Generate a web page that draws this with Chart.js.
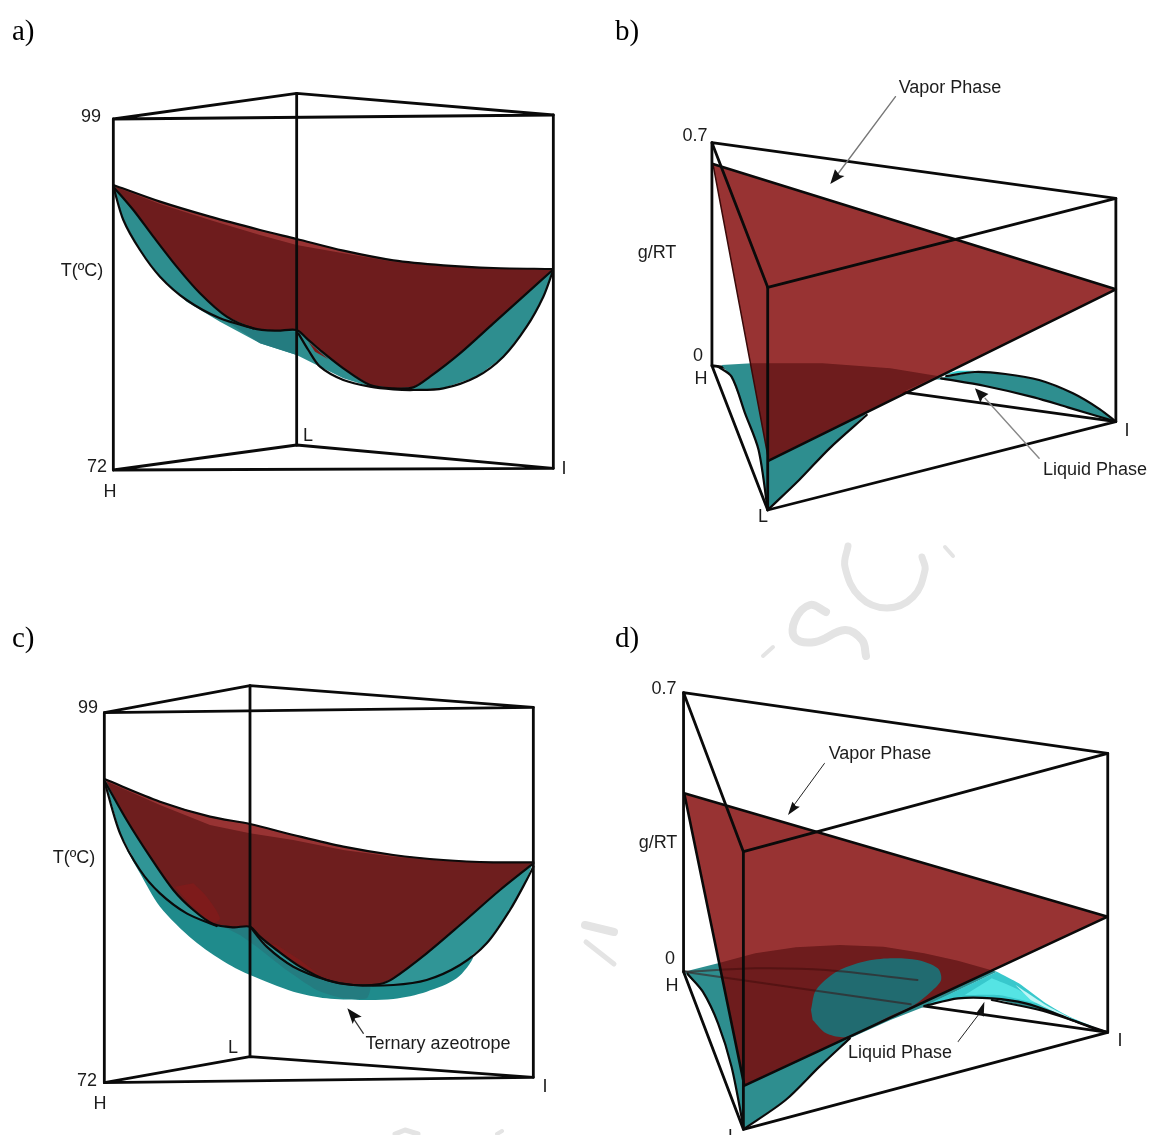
<!DOCTYPE html>
<html>
<head>
<meta charset="utf-8">
<title>Superficies</title>
<script src="https://cdn.jsdelivr.net/npm/chart.js@4"></script>
<style>
  html, body { margin: 0; width: 1150px; height: 1135px; overflow: hidden; background: #fff; }
  canvas { position: absolute; }
  .t { position: absolute; white-space: nowrap; color: #1c1c1c; font-family: "Liberation Sans", sans-serif; font-size: 18px; line-height: 1; transform: translate(-50%, -50%); }
  .p { position: absolute; color: #000; font-family: "Liberation Serif", serif; font-size: 29px; line-height: 1; }
</style>
</head>
<body>
<script>
// panel a)
const aFrameTop = [[160,117],[1480,105],[710,40],[160,117]];
const aFrameBottom = [[160,1170],[1480,1165],[710,1095],[160,1170]];
const aPostH = [[160,117],[160,1170]];
const aPostL = [[710,40],[710,1095]];
const aPostI = [[1480,105],[1480,1165]];
const aLiquid = [[160,318],[300,372],[450,420],[600,465],[710,495],[850,520],[1000,545],[1150,558],[1300,566],[1478,570],[1450,650],[1400,740],[1330,830],[1250,890],[1150,925],[1040,930],[930,920],[850,895],[770,855],[710,825],[600,790],[480,725],[380,665],[300,590],[240,510],[190,420]];
const aLiquidDark = [[500,725],[600,790],[710,825],[710,755],[580,748]];
const aVapor = [[160,315],[300,365],[450,410],[600,450],[710,477],[850,512],[1000,541],[1150,556],[1300,564],[1478,567],[1400,640],[1300,730],[1200,820],[1110,890],[1060,922],[1000,925],[930,915],[850,865],[780,810],[740,775],[710,750],[650,752],[580,745],[500,710],[420,640],[350,560],[280,470],[220,390]];
const aVaporBit = [[745,785],[790,825],[805,838],[765,815]];
const aEdgeTop = [[160,315],[300,365],[450,410],[600,450],[710,477],[850,512],[1000,541],[1150,556],[1300,564],[1478,567]];
const aEdgeVapor = [[160,320],[220,390],[280,470],[350,560],[420,640],[500,710],[580,745],[650,752],[710,750],[740,775],[780,810],[850,865],[930,915],[1000,925],[1060,922],[1110,890],[1200,820],[1300,730],[1400,640],[1478,570]];
const aEdgeLeft = [[160,320],[190,420],[240,510],[300,590],[380,660],[480,715],[580,745]];
const aEdgeRight = [[715,760],[745,810],[780,860],[850,900],[930,920],[1000,928],[1060,930],[1150,925],[1250,890],[1330,830],[1400,740],[1450,650],[1478,575]];

// panel b)
const bFrameTop = [[272,218],[1467,385],[437,652],[272,218]];
const bFrameBottom = [[272,887],[1467,1055],[437,1320],[272,887]];
const bPostH = [[272,218],[272,887]];
const bPostL = [[437,652],[437,1320]];
const bPostI = [[1467,385],[1467,1055]];
const bLiquid = [[300,885],[390,880],[600,880],[800,895],[940,918],[850,960],[730,1030],[620,1135],[530,1230],[437,1320],[410,1140],[370,1030],[330,920]];
const bLens = [[925,928],[1050,905],[1140,912],[1240,930],[1340,970],[1420,1018],[1467,1055],[1325,1012],[1225,982],[1080,948],[970,930]];
const bCyan = [[955,914],[1000,902],[1050,902],[1010,910]];
const bVapor = [[275,282],[1467,658],[440,1172]];
const bEdgeLow = [[437,1320],[530,1230],[620,1135],[730,1035]];
const bEdgeLeft = [[290,890],[330,920],[370,1030],[410,1140],[437,1320]];
const bEdgeLensUp = [[965,918],[1050,906],[1140,912],[1240,930],[1340,970],[1420,1018],[1467,1055]];
const bEdgeLensLow = [[950,925],[1080,948],[1225,982],[1325,1012],[1467,1055]];
const bEdgeVapor = [[275,282],[1467,658],[440,1172]];
const bEdgeVaporSide = [[275,282],[440,1172]];
const bArrowVapor = [[815,80],[640,318]];
const bHeadVapor = [[622,342],[636,298],[650,316],[664,318]];
const bArrowLiquid = [[1240,1165],[1080,985]];
const bHeadLiquid = [[1050,955],[1090,972],[1072,985],[1066,998]];

// panel c)
const cFrameTop = [[133,128],[1420,112],[570,47],[133,128]];
const cFrameBottom = [[133,1238],[1420,1222],[570,1160],[133,1238]];
const cPostH = [[133,128],[133,1238]];
const cPostL = [[570,47],[570,1160]];
const cPostI = [[1420,112],[1420,1222]];
const cBowl = [[200,540],[240,610],[300,710],[400,810],[500,880],[570,915],[700,965],[800,985],[900,990],[1000,987],[1100,965],[1190,925],[1240,860],[1200,860],[1000,900],[700,850],[470,740],[300,640]];
const cBowlDark = [[490,770],[570,770],[600,810],[660,870],[740,915],[830,940],[930,950],[920,985],[850,985],[770,960],[680,900],[590,830],[540,795]];
const cLiquid = [[135,332],[300,405],[450,465],[570,490],[700,510],[850,540],[1000,560],[1150,572],[1300,578],[1418,580],[1400,630],[1350,720],[1280,820],[1200,885],[1100,930],[1000,945],[880,945],[800,930],[700,890],[620,830],[570,770],[470,768],[380,730],[300,670],[240,600],[180,490]];
const cVapor = [[135,328],[300,395],[450,440],[570,462],[700,495],[850,530],[1000,555],[1150,570],[1300,577],[1420,577],[1320,660],[1200,765],[1100,850],[1000,925],[960,942],[880,945],[800,930],[720,890],[650,840],[600,800],[570,770],[520,772],[460,762],[400,720],[340,660],[270,560],[200,450]];
const cVaporBitLeft = [[345,650],[400,712],[458,758],[480,745],[440,680],[400,640]];
const cVaporBitRight = [[610,815],[680,860],[790,925],[720,870],[650,825]];
const cEdgeTop = [[135,328],[300,395],[450,440],[570,462],[700,495],[850,530],[1000,555],[1150,570],[1300,577],[1420,577]];
const cEdgeVapor = [[135,335],[200,450],[270,560],[340,660],[400,720],[460,762],[520,772],[570,770],[600,800],[650,840],[720,890],[800,930],[880,945],[960,942],[1000,925],[1100,850],[1200,765],[1320,660],[1420,580]];
const cEdgeLeft = [[135,340],[180,490],[240,600],[300,670],[380,730],[470,768]];
const cEdgeRight = [[570,770],[620,830],[700,890],[800,930],[880,945],[1000,945],[1100,930],[1200,885],[1280,820],[1350,720],[1400,630],[1420,590]];
const cArrow = [[910,1090],[880,1045]];
const cHead = [[862,1015],[905,1040],[885,1045],[878,1062]];

// panel d)
const dFrameTop = [[188,68],[1443,250],[365,545],[188,68]];
const dFrameBottom = [[188,905],[1443,1087],[365,1378],[188,905]];
const dPostH = [[188,68],[188,905]];
const dPostL = [[365,545],[365,1378]];
const dPostI = [[1443,250],[1443,1087]];
const dLiquid = [[190,905],[290,880],[400,850],[520,832],[650,825],[780,830],[900,850],[1000,872],[1115,905],[900,1010],[800,1050],[680,1105],[590,1190],[490,1290],[365,1378],[330,1190],[290,1060],[245,965]];
const dCyan = [[1115,905],[1180,940],[1260,1000],[1330,1040],[1443,1087],[1300,1035],[1200,1000],[1100,985],[1000,985],[900,1008]];
const dCyanBright = [[1100,925],[1170,955],[1240,1000],[1120,975],[1020,975]];
const dCyanPale = [[1170,945],[1260,1005],[1340,1048],[1290,1028],[1215,990]];
const dLens = [[1100,985],[1200,1000],[1300,1035],[1400,1075],[1443,1087],[1350,1055],[1250,1022]];
const dVapor = [[190,370],[1443,740],[368,1247]];
const dBlob = [[565,1020],[580,960],[640,905],[720,875],[800,865],[880,870],[940,895],[950,930],[920,965],[870,1005],[800,1038],[670,1100],[610,1090],[570,1050]];
const dRidge = [[200,905],[400,895],[610,900],[880,930]];
const dFloorLine = [[188,905],[860,1003]];
const dEdgeLow = [[365,1378],[490,1290],[590,1190],[680,1105]];
const dEdgeLeft = [[200,912],[245,965],[290,1060],[330,1190],[365,1370]];
const dEdgeLensUp = [[900,1008],[1000,985],[1100,985],[1200,1000],[1300,1035],[1400,1075],[1443,1087]];
const dEdgeLensLow = [[1100,990],[1250,1022],[1350,1055],[1443,1087]];
const dEdgeVapor = [[190,370],[1443,740],[368,1247],[190,370]];
const dArrowVapor = [[605,280],[515,405]];
const dHeadVapor = [[497,435],[510,395],[520,408],[532,410]];
const dArrowLiquid = [[1000,1115],[1060,1035]];
const dHeadLiquid = [[1078,995],[1076,1040],[1062,1030],[1050,1035]];

// gray fragments behind the panels (page units)
const wmC = [[848,546],[845,567],[860,597],[887,608],[913,597],[925,570],[922,557]];
const wmS = [[826,612],[810,605],[795,620],[795,638],[815,642],[845,630],[862,640],[866,656]];
const wmSlash = [[945,547],[953,556]];
const wmTick = [[763,656],[773,647]];
const wmWedgeUp = [[585,925],[614,932]];
const wmWedgeLow = [[586,942],[614,964]];
const wmFootA = [[395,1134],[405,1130],[418,1134]];
const wmFootB = [[497,1134],[502,1131]];

const teal = "#2e8e8f";
const tealDark = "#247c80";
const tealDeep = "#1f8b8c";
const tealBlob = "#216b70";
const vaporRed = "rgba(126,0,0,0.8)";
const bitRed = "#7e1b1b";
const ink = "#0a0a0a";
const wmGray = "#e4e4e4";

function fillLayer(points, color, tension) {
  return { data: points, showLine: true, fill: "shape", backgroundColor: color, borderWidth: 0, borderColor: "transparent", pointRadius: 0, tension: tension || 0 };
}

function lineLayer(points, color, width, tension) {
  return { data: points, showLine: true, fill: false, borderColor: color, borderWidth: width, pointRadius: 0, tension: tension || 0, borderJoinStyle: "round", borderCapStyle: "round" };
}

function frame(...lists) {
  return lists.map((l) => lineLayer(l, ink, 2.8));
}

function curves(...lists) {
  return lists.map((l) => lineLayer(l, ink, 2.2, 0.3));
}

function panel(left, top, width, height, unitsX, unitsY, layers) {
  const canvas = document.createElement("canvas");
  canvas.width = width;
  canvas.height = height;
  canvas.style.left = left + "px";
  canvas.style.top = top + "px";
  document.body.appendChild(canvas);
  // chart.js paints the first dataset last, so the list goes in reversed
  new Chart(canvas, {
    type: "scatter",
    data: { datasets: layers.slice().reverse() },
    options: {
      responsive: false,
      animation: false,
      events: [],
      layout: { padding: 0 },
      plugins: { legend: { display: false }, tooltip: { enabled: false } },
      scales: {
        x: { type: "linear", display: false, min: 0, max: unitsX },
        y: { type: "linear", display: false, min: 0, max: unitsY, reverse: true },
      },
    },
  });
}

function texto(str, x, y) {
  const el = document.createElement("div");
  el.className = "t";
  el.textContent = str;
  el.style.left = x + "px";
  el.style.top = y + "px";
  document.body.appendChild(el);
}

function letra(str, x, y) {
  const el = document.createElement("div");
  el.className = "p";
  el.textContent = str;
  el.style.left = x + "px";
  el.style.top = y + "px";
  document.body.appendChild(el);
}

// gray fragments
panel(0, 0, 1150, 1135, 1150, 1135, [
  lineLayer(wmC, wmGray, 7, 0.4),
  lineLayer(wmS, wmGray, 8, 0.4),
  lineLayer(wmSlash, wmGray, 4),
  lineLayer(wmTick, wmGray, 4),
  lineLayer(wmWedgeUp, wmGray, 8),
  lineLayer(wmWedgeLow, wmGray, 5),
  lineLayer(wmFootA, wmGray, 5),
  lineLayer(wmFootB, wmGray, 4),
]);

// a)
panel(60, 80, 520, 420, 1560, 1260, [
  fillLayer(aLiquid, teal),
  fillLayer(aLiquidDark, tealDark),
  fillLayer(aVapor, vaporRed),
  fillLayer(aVaporBit, bitRed),
  ...curves(aEdgeTop, aEdgeVapor, aEdgeLeft, aEdgeRight),
  ...frame(aFrameTop, aFrameBottom, aPostH, aPostL, aPostI),
]);

// b)
panel(620, 70, 530, 460, 1568, 1380, [
  ...frame(bFrameBottom),
  fillLayer(bLiquid, teal),
  fillLayer(bLens, teal),
  fillLayer(bCyan, "#38d0d0"),
  fillLayer(bVapor, vaporRed),
  lineLayer(bEdgeVapor, ink, 2.6),
  lineLayer(bEdgeVaporSide, "#3a0a0a", 1.5),
  ...curves(bEdgeLow, bEdgeLeft, bEdgeLensUp, bEdgeLensLow),
  ...frame(bFrameTop, bPostH, bPostL, bPostI),
  lineLayer(bArrowVapor, "#777", 1.4),
  fillLayer(bHeadVapor, "#111"),
  lineLayer(bArrowLiquid, "#888", 1.4),
  fillLayer(bHeadLiquid, "#111"),
]);

// c)
panel(60, 670, 520, 450, 1560, 1350, [
  ...frame(cFrameBottom),
  fillLayer(cBowl, tealDeep, 0.3),
  fillLayer(cBowlDark, tealDark, 0.2),
  fillLayer(cLiquid, "#309596"),
  fillLayer(cVapor, vaporRed),
  fillLayer(cVaporBitLeft, bitRed, 0.3),
  fillLayer(cVaporBitRight, bitRed),
  ...curves(cEdgeTop, cEdgeVapor, cEdgeLeft, cEdgeRight),
  ...frame(cFrameTop, cPostH, cPostL, cPostI),
  lineLayer(cArrow, "#333", 1.2),
  fillLayer(cHead, "#111"),
]);

// d)
panel(620, 670, 530, 465, 1568, 1395, [
  ...frame(dFrameBottom),
  fillLayer(dLiquid, teal),
  fillLayer(dCyan, "#38c8cc", 0.2),
  fillLayer(dCyanBright, "#55e4e4", 0.2),
  fillLayer(dCyanPale, "#c0f6f6", 0.2),
  fillLayer(dLens, teal),
  fillLayer(dVapor, vaporRed),
  fillLayer(dBlob, tealBlob, 0.3),
  lineLayer(dRidge, "rgba(60,10,10,0.5)", 2, 0.3),
  lineLayer(dFloorLine, "rgba(60,10,10,0.5)", 2),
  lineLayer(dEdgeVapor, ink, 2.6),
  ...curves(dEdgeLow, dEdgeLeft, dEdgeLensUp, dEdgeLensLow),
  ...frame(dFrameTop, dPostH, dPostL, dPostI),
  lineLayer(dArrowVapor, "#222", 1),
  fillLayer(dHeadVapor, "#111"),
  lineLayer(dArrowLiquid, "#222", 1),
  fillLayer(dHeadLiquid, "#111"),
]);

letra("a)", 12, 16);
letra("b)", 615, 16);
letra("c)", 12, 623);
letra("d)", 615, 623);

texto("99", 91, 116);
texto("T(ºC)", 82, 270);
texto("72", 97, 466);
texto("H", 110, 491);
texto("L", 308, 435);
texto("I", 564, 468);

texto("Vapor Phase", 950, 87);
texto("0.7", 695, 135);
texto("g/RT", 657, 252);
texto("0", 698, 355);
texto("H", 701, 378);
texto("I", 1127, 430);
texto("Liquid Phase", 1095, 469);
texto("L", 763, 516);

texto("99", 88, 707);
texto("T(ºC)", 74, 857);
texto("72", 87, 1080);
texto("H", 100, 1103);
texto("L", 233, 1047);
texto("I", 545, 1086);
texto("Ternary azeotrope", 438, 1043);

texto("0.7", 664, 688);
texto("g/RT", 658, 842);
texto("0", 670, 958);
texto("H", 672, 985);
texto("I", 1120, 1040);
texto("Vapor Phase", 880, 753);
texto("Liquid Phase", 900, 1052);
texto("L", 733, 1136);
</script>
</body>
</html>
